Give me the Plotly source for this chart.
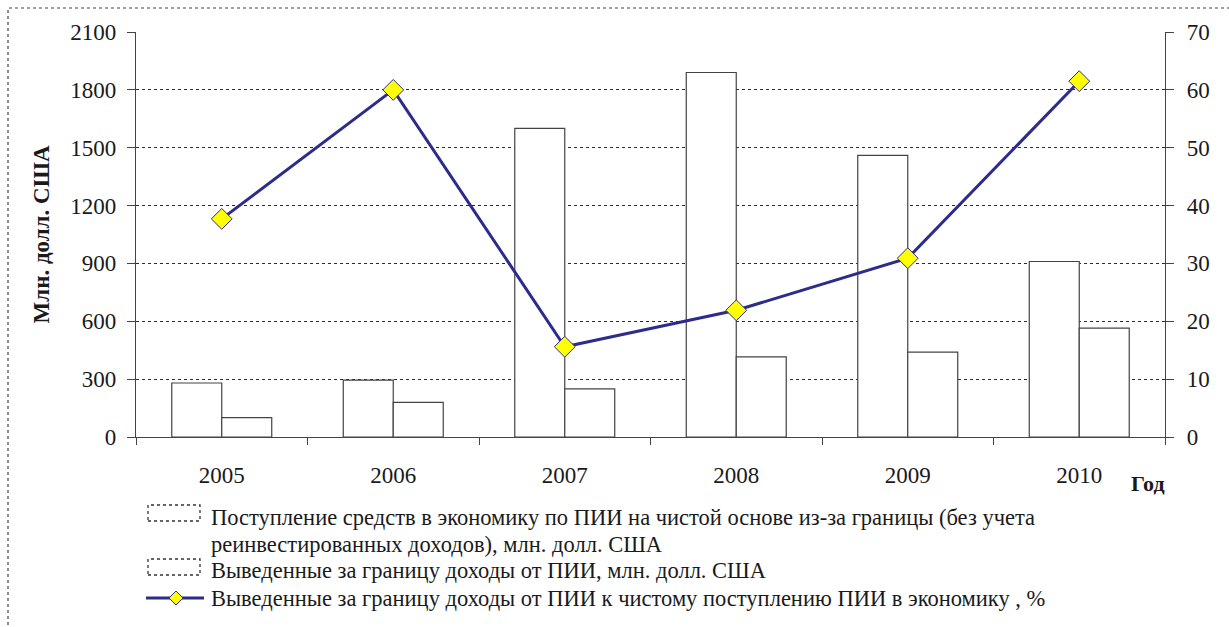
import plotly.graph_objects as go

# ---- data ----
years = ["2005", "2006", "2007", "2008", "2009", "2010"]
fdi_inflow = [280, 295, 1600, 1890, 1460, 910]          # млн. долл. США
income_outflow = [100, 180, 250, 415, 440, 565]        # млн. долл. США
outflow_ratio = [37.7, 60.0, 15.6, 21.9, 30.9, 61.5]   # %

name_inflow_lines = [
    "Поступление средств в экономику по ПИИ на чистой основе из-за границы (без учета",
    "реинвестированных доходов), млн. долл. США",
]
name_inflow = "<br>".join(name_inflow_lines)
name_outflow = "Выведенные за границу доходы от ПИИ, млн. долл. США"
name_ratio = "Выведенные за границу доходы от ПИИ к чистому поступлению ПИИ в экономику , %"

W, H = 1229, 627
ML, MR, MT, MB = 136, 64, 32, 190
PW, PH = W - ML - MR, H - MT - MB

FONT = "Liberation Serif, Times New Roman, serif"
INK = "#1a1a1a"
GRID = "#2a2a2a"
EDGE = "#444444"
NAVY = "#2B2C8C"
YELLOW = "#FFFF00"


def px_x(px):
    return (px - ML) / PW


def px_y(py):
    return (H - MB - py) / PH


fig = go.Figure()

fig.add_trace(go.Bar(
    x=years, y=fdi_inflow, name=name_inflow,
    marker=dict(color="white", line=dict(color=EDGE, width=1.2)),
    showlegend=False,
))
fig.add_trace(go.Bar(
    x=years, y=income_outflow, name=name_outflow,
    marker=dict(color="white", line=dict(color=EDGE, width=1.2)),
    showlegend=False,
))
fig.add_trace(go.Scatter(
    x=years, y=outflow_ratio, name=name_ratio, yaxis="y2",
    mode="lines+markers",
    line=dict(color=NAVY, width=3),
    marker=dict(symbol="diamond", size=16, color=YELLOW,
                line=dict(color=NAVY, width=1)),
    showlegend=False,
))

axis_font = dict(family=FONT, size=23, color=INK)

fig.update_layout(
    width=W, height=H,
    margin=dict(l=ML, r=MR, t=MT, b=MB),
    paper_bgcolor="white", plot_bgcolor="white",
    barmode="group", bargap=0.417, bargroupgap=0,
    font=dict(family=FONT, color=INK),
    xaxis=dict(
        type="category", tickson="boundaries",
        ticks="outside", ticklen=7, tickcolor=EDGE,
        showline=True, linecolor=EDGE, linewidth=1.2,
        showgrid=False, tickfont=axis_font, ticklabelstandoff=17,
    ),
    yaxis=dict(
        range=[0, 2100], dtick=300, tickformat="d",
        ticks="outside", ticklen=8, tickcolor=EDGE,
        showline=True, linecolor=EDGE, linewidth=1.2,
        showgrid=True, gridcolor=GRID, griddash="dot", gridwidth=1.3,
        zeroline=False, tickfont=axis_font, ticklabelstandoff=6,
        title=dict(text="<b>Млн. долл. США</b>",
                   font=dict(family=FONT, size=23, color=INK), standoff=14),
    ),
    yaxis2=dict(
        range=[0, 70], dtick=10, overlaying="y", side="right",
        ticks="outside", ticklen=8, tickcolor=EDGE,
        showline=True, linecolor=EDGE, linewidth=1.2,
        showgrid=False, zeroline=False, tickfont=axis_font,
        ticklabelstandoff=8,
    ),
)

shapes = []
annotations = []

# dotted outer frame of the chart area
shapes.append(dict(type="rect", xref="paper", yref="paper",
                   x0=px_x(8), x1=px_x(1245), y0=px_y(640), y1=px_y(8),
                   line=dict(color=EDGE, width=1.2, dash="dot"),
                   fillcolor="rgba(0,0,0,0)", layer="above"))

# axis caption for the years
annotations.append(dict(text="<b>Год</b>", xref="paper", yref="paper",
                        x=px_x(1129), y=px_y(483), xanchor="left", yanchor="middle",
                        showarrow=False, font=dict(family=FONT, size=22, color=INK)))

# legend: bar swatches
for top, bottom in [(505, 521), (559, 575)]:
    shapes.append(dict(type="rect", xref="paper", yref="paper",
                       x0=px_x(148), x1=px_x(200), y0=px_y(bottom), y1=px_y(top),
                       line=dict(color="#333333", width=1.3, dash="dot"),
                       fillcolor="white"))

# legend: line + diamond swatch
ly = 598
shapes.append(dict(type="line", xref="paper", yref="paper",
                   x0=px_x(146), x1=px_x(204), y0=px_y(ly), y1=px_y(ly),
                   line=dict(color=NAVY, width=3)))
cx, r = 176, 7
shapes.append(dict(type="path", xref="paper", yref="paper",
                   path=(f"M {px_x(cx - r)},{px_y(ly)} L {px_x(cx)},{px_y(ly - r)} "
                         f"L {px_x(cx + r)},{px_y(ly)} L {px_x(cx)},{px_y(ly + r)} Z"),
                   fillcolor=YELLOW, line=dict(color=NAVY, width=1)))

# legend texts, one annotation per printed line
legend_font = dict(family=FONT, size=22.5, color=INK)
legend_lines = [
    (name_inflow_lines[0], 517),
    (name_inflow_lines[1], 544),
    (name_outflow, 570),
    (name_ratio, 598),
]
for text, y in legend_lines:
    annotations.append(dict(text=text, xref="paper", yref="paper",
                            x=px_x(209), y=px_y(y), xanchor="left", yanchor="middle",
                            align="left", showarrow=False, font=legend_font))

fig.update_layout(shapes=shapes, annotations=annotations)

fig.write_html("out.html")
